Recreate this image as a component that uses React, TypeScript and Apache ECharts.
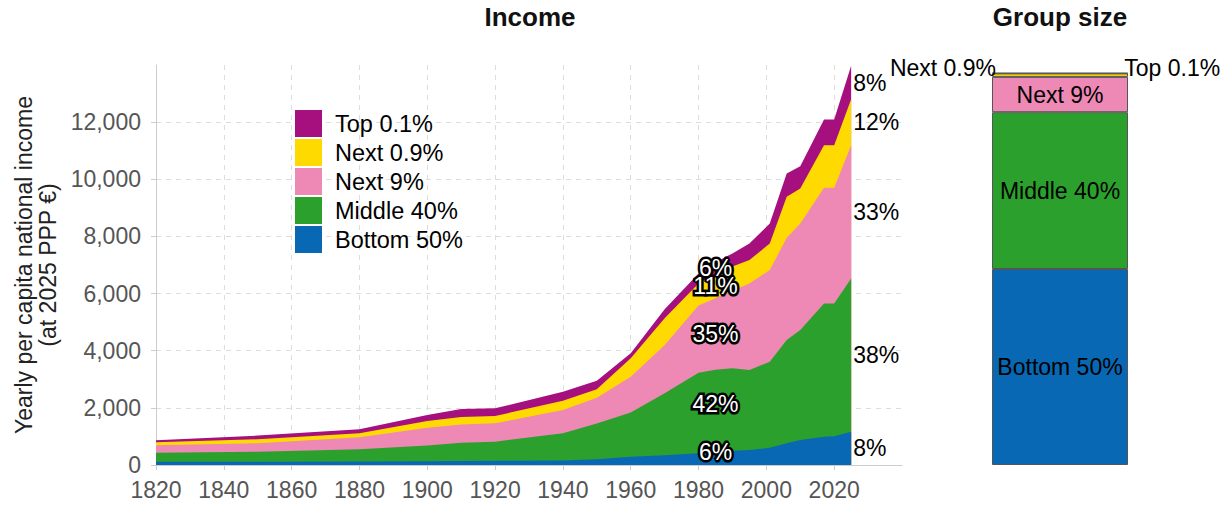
import React, { useEffect, useRef } from 'react';
import * as echarts from 'echarts';

const years = [1820, 1850, 1880, 1900, 1910, 1920, 1940, 1950, 1960, 1970, 1980, 1985, 1990, 1995, 2001, 2006, 2010, 2017, 2020, 2025];
const bottom50 = [110, 115, 120, 135, 140, 145, 160, 200, 290, 345, 409, 450, 500, 525, 600, 759, 875, 992, 1010, 1166];
const middle40 = [322, 351, 428, 545, 640, 671, 948, 1250, 1550, 2163, 2821, 2880, 2882, 2798, 3014, 3614, 3848, 4664, 4646, 5364];
const next9 = [257, 293, 421, 620, 640, 643, 816, 900, 1250, 1690, 2350, 2502, 2718, 3033, 3208, 3577, 3732, 4047, 4047, 4665];
const next09 = [105, 140, 139, 240, 260, 255, 326, 300, 642, 934, 776, 868, 850, 816, 928, 1437, 1224, 1492, 1492, 1605];
const top01 = [70, 131, 140, 210, 280, 269, 310, 300, 175, 315, 350, 400, 456, 584, 700, 818, 781, 899, 899, 1170];

const groupNames = ['Bottom 50%', 'Middle 40%', 'Next 9%', 'Next 0.9%', 'Top 0.1%'];
const groupColors = ['#0868B4', '#2CA02C', '#EE88B4', '#FFDA00', '#A5107E'];
const groupSizes = [50, 40, 9, 0.9, 0.1];
const labelYearA = 1985;
const sharesA = [6, 42, 35, 11, 6];
const labelYearB = 2025;
const sharesB = [8, 38, 33, 12, 8];

const bands = [bottom50, middle40, next9, next09, top01];

// cumulative tops of each band (stacking done here so that bands can be drawn
// as opaque areas from the axis, the top band first)
function cumulative() {
  const out: number[][] = [];
  bands.forEach((b, k) => {
    out.push(b.map((v, i) => v + (k > 0 ? out[k - 1][i] : 0)));
  });
  return out;
}

function mids(year: number) {
  const idx = years.indexOf(year);
  let c = 0;
  return bands.map((b) => {
    const m = c + b[idx] / 2;
    c += b[idx];
    return m;
  });
}

const FONT = 'Liberation Sans, Arial, sans-serif';

export default function App() {
  const ref = useRef<HTMLDivElement>(null);
  useEffect(() => {
    if (!ref.current) return;
    const chart = echarts.init(ref.current, undefined, { renderer: 'svg' });
    const midsA = mids(labelYearA);
    const midsB = mids(labelYearB);
    const cum = cumulative();
    const areaSeries = [4, 3, 2, 1, 0].map((k) => ({
      type: 'line',
      name: groupNames[k],
      xAxisIndex: 0,
      yAxisIndex: 0,
      z: 2,
      data: years.map((y, i) => [y, cum[k][i]]),
      showSymbol: false,
      symbol: 'none',
      lineStyle: { width: 0 },
      itemStyle: { color: groupColors[k] },
      areaStyle: { color: groupColors[k], opacity: 1 },
      silent: true,
    }));
    const barSeries = groupSizes.map((v, k) => {
      let label: any = {
        show: true,
        position: 'inside',
        color: '#000',
        fontSize: 23,
        fontFamily: FONT,
        formatter: groupNames[k],
      };
      if (k === 3) label = { ...label, position: 'left', distance: 0, offset: [4, -7] };
      if (k === 4) label = { ...label, position: 'right', distance: 0, offset: [-4, -5] };
      return {
        type: 'bar',
        name: 'size ' + groupNames[k],
        stack: 'size',
        xAxisIndex: 1,
        yAxisIndex: 1,
        barWidth: 136,
        data: [v],
        itemStyle: { color: groupColors[k], borderColor: '#555', borderWidth: 1 },
        label,
        silent: true,
      };
    });
    const innerLabel = {
      show: true,
      position: 'inside',
      color: '#fff',
      fontSize: 23,
      fontFamily: FONT,
      textBorderColor: '#000',
      textBorderWidth: 5,
      opacity: 1,
    };
    const labelSeries = (ks: number[], dy: number) => ({
      type: 'scatter',
      xAxisIndex: 0,
      yAxisIndex: 0,
      z: 20,
      zlevel: 1,
      symbolSize: 0,
      silent: true,
      itemStyle: { opacity: 1 },
      data: ks.map((k) => ({
        value: [labelYearA, midsA[k]],
        label: { formatter: sharesA[k] + '%' },
      })),
      label: innerLabel,
      labelLayout: { hideOverlap: false, dy },
    });
    const option: any = {
      animation: false,
      textStyle: { fontFamily: FONT },
      title: [
        {
          text: 'Income',
          left: 530,
          top: 4,
          padding: 0,
          textAlign: 'center',
          textStyle: { fontSize: 26, fontWeight: 'bold', color: '#111', fontFamily: FONT },
        },
        {
          text: 'Group size',
          left: 1060,
          top: 4,
          padding: 0,
          textAlign: 'center',
          textStyle: { fontSize: 26, fontWeight: 'bold', color: '#111', fontFamily: FONT },
        },
      ],
      legend: {
        data: [...groupNames].reverse(),
        orient: 'vertical',
        left: 295,
        top: 110,
        padding: 0,
        itemWidth: 27,
        itemHeight: 27,
        itemGap: 2,
        icon: 'rect',
        itemStyle: { borderWidth: 0 },
        textStyle: { fontSize: 23.5, color: '#000', fontFamily: FONT, padding: [0, 0, 0, 8] },
        selectedMode: false,
      },
      grid: [
        { left: 156, right: 330, top: 65, bottom: 41, containLabel: false },
        { left: 992, width: 136, top: 73, height: 392, containLabel: false },
      ],
      xAxis: [
        {
          type: 'value',
          gridIndex: 0,
          min: 1820,
          max: 2040,
          interval: 20,
          axisLine: { show: true, lineStyle: { color: '#ccc' } },
          axisTick: { show: true, length: 5, lineStyle: { color: '#ccc' } },
          axisLabel: {
            fontSize: 23,
            color: '#555',
            margin: 13,
            showMaxLabel: false,
            fontFamily: FONT,
            formatter: (v: number) => String(v),
          },
          splitLine: {
            show: true,
            showMinLine: false,
            showMaxLine: false,
            lineStyle: { color: '#ddd', type: [5, 5], width: 1 },
          },
        },
        { type: 'category', gridIndex: 1, data: ['Group size'], show: false },
      ],
      yAxis: [
        {
          type: 'value',
          gridIndex: 0,
          min: 0,
          max: 14000,
          interval: 2000,
          name: 'Yearly per capita national income\n(at 2025 PPP €)',
          nameLocation: 'middle',
          nameRotate: 90,
          nameGap: 96,
          nameTextStyle: { fontSize: 23, color: '#222', lineHeight: 24, fontFamily: FONT },
          axisLine: { show: true, lineStyle: { color: '#ccc' } },
          axisTick: { show: true, length: 5, lineStyle: { color: '#ccc' } },
          axisLabel: {
            fontSize: 23,
            color: '#555',
            margin: 15,
            showMaxLabel: false,
            fontFamily: FONT,
            formatter: (v: number) => v.toLocaleString('en-US'),
          },
          splitLine: {
            show: true,
            showMinLine: false,
            showMaxLine: false,
            lineStyle: { color: '#ddd', type: [5, 5], width: 1 },
          },
        },
        { type: 'value', gridIndex: 1, min: 0, max: 100, show: false },
      ],
      series: [
        ...areaSeries,
        ...barSeries,
        labelSeries([0, 1], -7),
        labelSeries([2, 3, 4], 0),
        {
          type: 'scatter',
          xAxisIndex: 0,
          yAxisIndex: 0,
          z: 20,
          symbolSize: 0,
          silent: true,
          itemStyle: { opacity: 1 },
          data: midsB.map((m, k) => ({
            value: [labelYearB, m],
            label: { formatter: sharesB[k] + '%' },
          })),
          label: {
            show: true,
            position: 'right',
            distance: 2,
            color: '#000',
            fontSize: 23,
            fontFamily: FONT,
          },
        },
      ],
    };
    chart.setOption(option);
    return () => chart.dispose();
  }, []);
  return (
    <div
      ref={ref}
      style={{ position: 'absolute', left: 0, top: 0, width: 1232, height: 506, background: '#fff' }}
    />
  );
}
